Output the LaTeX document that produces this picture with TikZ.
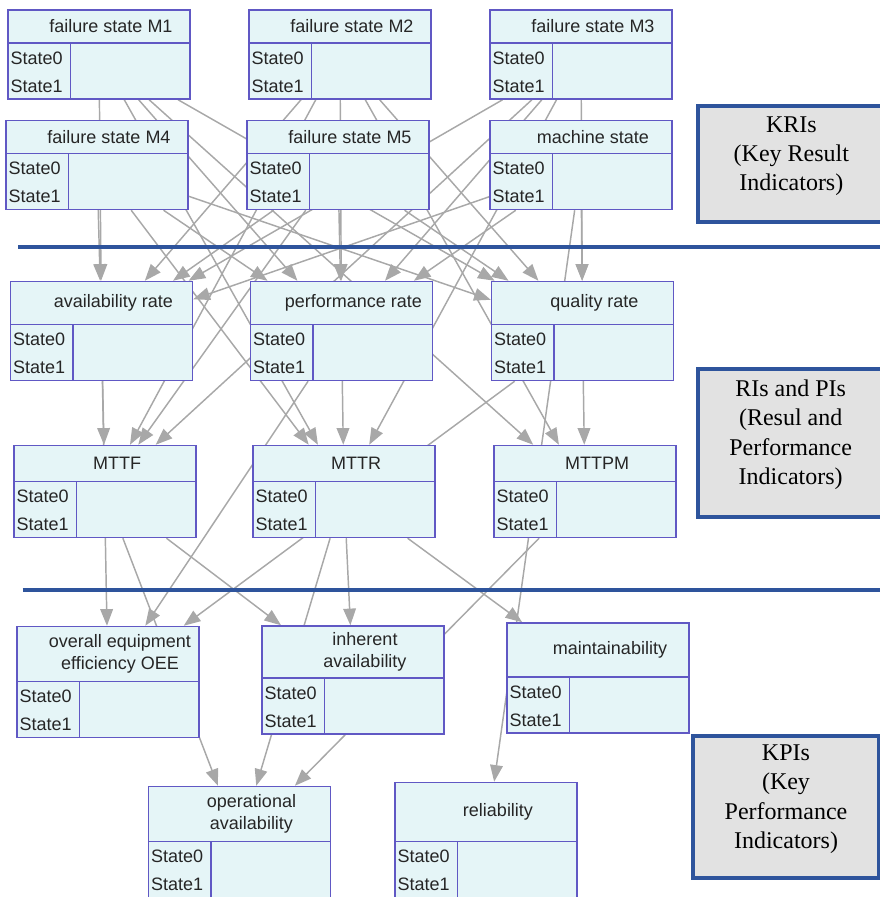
\documentclass[tikz,border=0pt]{standalone}
\usepackage{fontspec}
\setmainfont{Liberation Sans}
\newfontfamily\indserif{Liberation Serif}
\usepackage{tikz}
\usetikzlibrary{arrows.meta, fit, backgrounds}

\definecolor{nodefill}{RGB}{229,245,247}
\definecolor{nodeline}{RGB}{96,88,196}
\definecolor{depgray}{RGB}{168,168,168}
\definecolor{layerblue}{RGB}{46,84,156}
\definecolor{indfill}{RGB}{226,226,226}

% network node: name, left, top, header height, title
\newcommand{\netnode}[5]{%
  \node[bnbox, fit={(#2,#3) (#2+182,#3+#4+56)}] (#1) {};
  \draw[bnline] (#2,#3+#4) -- ++(182,0);
  \draw[bnline] (#2+62.5,#3+#4) -- ++(0,56);
  \node[bntitle] at (#2+103,#3+#4/2) {#5};
  \node[bnstate] at (#2+1,#3+#4+15) {State0};
  \node[bnstate] at (#2+1,#3+#4+43) {State1};
}

\begin{document}
\begin{tikzpicture}[
    x=0.75pt, y=-0.75pt,
    bnbox/.style={draw=nodeline, fill=nodefill, line width=1.1pt, inner sep=0pt},
    bnline/.style={draw=nodeline, line width=1.1pt},
    bntitle/.style={align=center, text=black!85, font=\fontsize{13.5}{17}\selectfont},
    bnstate/.style={anchor=west, inner sep=1pt, text=black!85, font=\fontsize{13.5}{16}\selectfont},
    dep/.style={draw=depgray, line width=1.1pt, -{Triangle[length=12.5pt,width=9.5pt,fill=depgray]}},
    sepline/.style={draw=layerblue, line width=3pt},
    indbox/.style={draw=layerblue, fill=indfill, line width=3.5pt, inner sep=0pt, align=center, font=\indserif\fontsize{18}{22}\selectfont}
]
    \useasboundingbox (0,0) rectangle (880,897);

    % KRIs
    \netnode{m1}{8}{10}{33}{failure state M1}
    \netnode{m2}{249}{10}{33}{failure state M2}
    \netnode{m3}{490}{10}{33}{failure state M3}
    \netnode{m4}{6}{120.5}{33}{failure state M4}
    \netnode{m5}{247}{120.5}{33}{failure state M5}
    \netnode{mstate}{490}{120.5}{33}{machine state}

    % RIs and PIs
    \netnode{avail}{10.5}{281.5}{43}{availability rate}
    \netnode{perf}{250.5}{281.5}{43}{performance rate}
    \netnode{qual}{491.5}{281.5}{43}{quality rate}
    \netnode{mttf}{14}{445.5}{36}{MTTF}
    \netnode{mttr}{253}{445.5}{36}{MTTR}
    \netnode{mttpm}{494}{445.5}{36}{MTTPM}

    % KPIs
    \netnode{oee}{17}{626.5}{55}{overall equipment\\efficiency OEE}
    \netnode{inh}{262}{626}{52}{inherent\\availability}
    \netnode{maint}{507}{623}{54}{maintainability}
    \netnode{opav}{148.5}{786.5}{55}{operational\\availability}
    \netnode{rel}{395}{782.5}{59}{reliability}

    % Level separators
    \draw[sepline] (18,246.5) -- (880,246.5);
    \draw[sepline] (22.5,590) -- (880,590);

    % Side labels
    \node[indbox, fit={(698,106) (890,222)}] (kri) {\hspace*{-4pt}KRIs\\\hspace*{-4pt}(Key Result\\\hspace*{-4pt}Indicators)};
    \node[indbox, fit={(698,369) (890,517)}] (rpi) {\hspace*{-5pt}RIs and PIs\\\hspace*{-5pt}(Resul and\\\hspace*{-5pt}Performance\\\hspace*{-5pt}Indicators)};
    \node[indbox, fit={(693,736) (879,878)}] (kpi) {KPIs\\(Key\\Performance\\Indicators)};

    % Dependencies, behind the boxes
    \begin{scope}[on background layer]
        \draw[dep] (m1) edge (avail) edge (perf) edge (qual) edge (mttr) edge (mttpm);
        \draw[dep] (m2) edge (avail) edge (perf) edge (qual) edge (mttf) edge (mttpm);
        \draw[dep] (m3) edge (avail) edge (perf) edge (qual) edge (mttf) edge (mttr);
        \draw[dep] (m4) edge (avail) edge (perf) edge (qual) edge (mttr);
        \draw[dep] (m5) edge (avail) edge (perf) edge (qual) edge (mttf);
        \draw[dep] (mstate) edge (avail) edge (perf) edge (qual) edge (rel);
        \draw[dep] (avail) edge (mttf) edge (oee);
        \draw[dep] (perf) edge (mttr) edge (oee);
        \draw[dep] (qual) edge (mttpm) edge (oee);
        \draw[dep] (mttf) edge (inh) edge (opav);
        \draw[dep] (mttr) edge (inh) edge (opav) edge (maint);
        \draw[dep] (mttpm) edge (opav);
    \end{scope}
\end{tikzpicture}
\end{document}
